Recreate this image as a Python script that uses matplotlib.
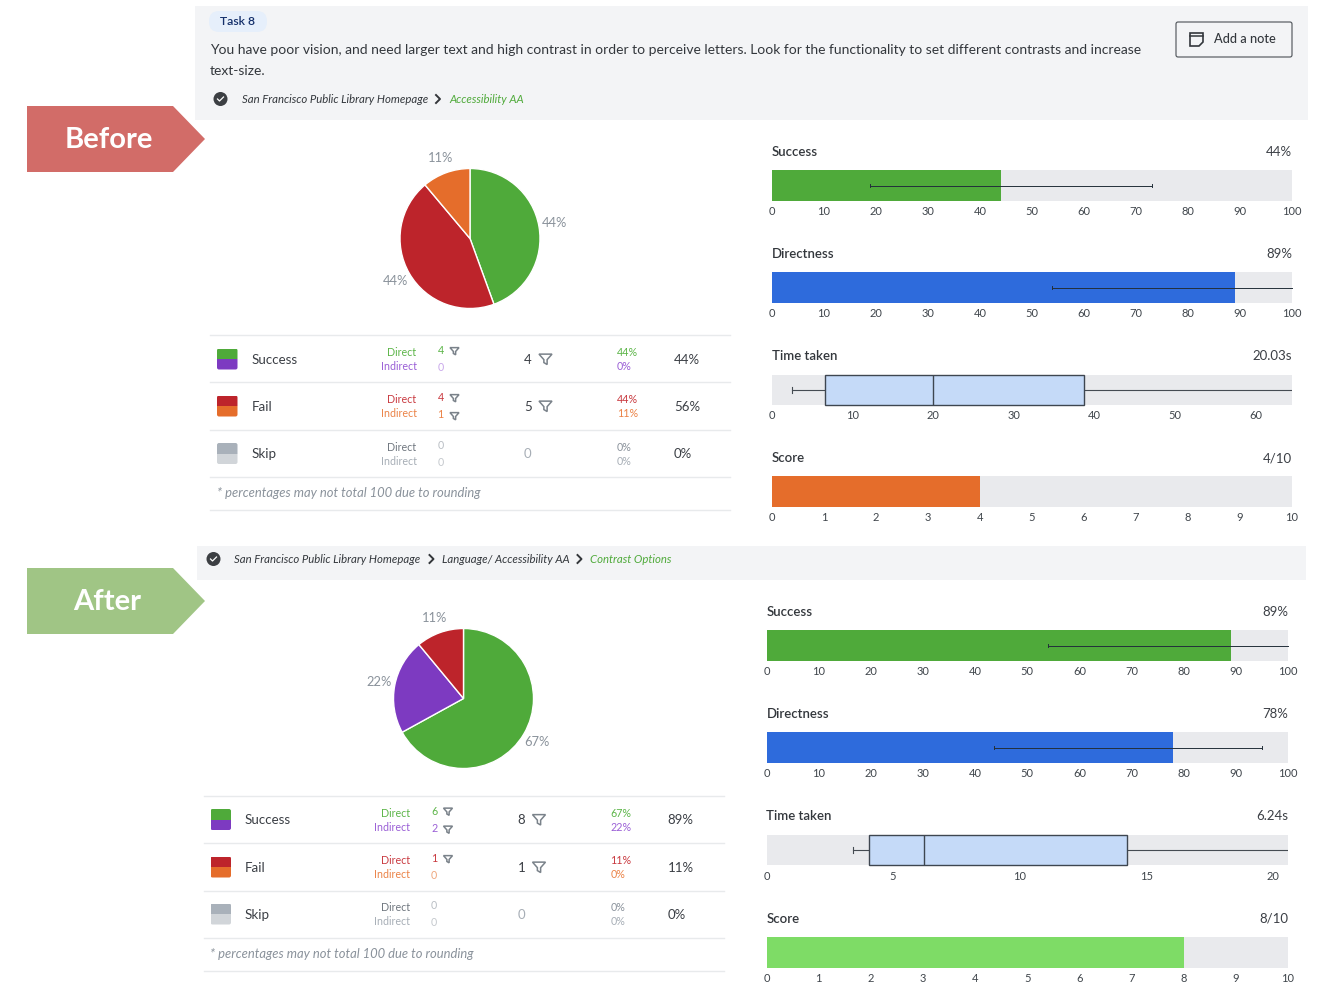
import matplotlib
matplotlib.use("Agg")
import matplotlib.pyplot as plt
from matplotlib.patches import Rectangle, FancyBboxPatch, Polygon, Circle

W, H = 1322, 1006
plt.rcParams['font.family'] = ['Lato', 'DejaVu Sans']

GREEN = '#4FAA3A'; PURPLE = '#7D3AC1'; RED = '#BD242B'; ORANGE = '#E56D2B'
BLUE = '#2E6BDC'; LIME = '#7EDC66'; GREY = '#A9B1BA'; LGREY = '#D1D5D9'
TRACK = '#E9EAED'; BOXC = '#C5DAF8'; DARK = '#3B3F45'; MUTED = '#8A929B'

task_text = ["You have poor vision, and need larger text and high contrast in order to perceive letters. Look for the functionality to set different contrasts and increase",
             "text-size."]
footnote = "* percentages may not total 100 due to rounding"

before_pie_values = [44, 44, 11]
before_pie_colors = [GREEN, RED, ORANGE]
before_pie_labels = ['44%', '44%', '11%']
after_pie_values = [67, 22, 11]
after_pie_colors = [GREEN, PURPLE, RED]
after_pie_labels = ['67%', '22%', '11%']

row_names = ['Success', 'Fail', 'Skip']
row_colors = [(GREEN, PURPLE), (RED, ORANGE), (GREY, LGREY)]
text_colors = [('#5CB548', '#9A5FD6'), ('#C93A40', '#EB8347'), ('#6F767E', '#A7AEB6')]
before_direct = [4, 4, 0]; before_indirect = [0, 1, 0]; before_total = [4, 5, 0]
before_dpct = ['44%', '44%', '0%']; before_ipct = ['0%', '11%', '0%']; before_tpct = ['44%', '56%', '0%']
after_direct = [6, 1, 0]; after_indirect = [2, 0, 0]; after_total = [8, 1, 0]
after_dpct = ['67%', '11%', '0%']; after_ipct = ['22%', '0%', '0%']; after_tpct = ['89%', '11%', '0%']

before_success = 44; before_success_ci = (18.8, 73)
before_direct_pct = 89; before_direct_ci = (53.8, 100)
before_time = (2.5, 6.6, 20.03, 38.7, 64.5)
before_score = 4
after_success = 89; after_success_ci = (54, 100)
after_direct_pct = 78; after_direct_ci = (43.7, 95)
after_time = (3.4, 4.05, 6.24, 14.25, 20.6)
after_score = 8

ticks_pct = list(range(0, 101, 10))
ticks_score = list(range(0, 11))
before_time_ticks = [0, 10, 20, 30, 40, 50, 60]
after_time_ticks = [0, 5, 10, 15, 20]

fig = plt.figure(figsize=(W / 100, H / 100), dpi=100, facecolor='white')
bg = fig.add_axes([0, 0, 1, 1])
bg.set_xlim(0, W); bg.set_ylim(H, 0); bg.axis('off')


def T(x, y, s, size=8, color=DARK, ha='left', va='center', **kw):
    bg.text(x, y + 0.8, s, fontsize=size, color=color, ha=ha, va=va, **kw)


def R(x0, y0, x1, y1, color):
    bg.add_patch(Rectangle((x0, y0), x1 - x0, y1 - y0, fc=color, ec='none'))


def funnel(x, y, s, color='#7A828A'):
    bg.add_patch(Polygon([(x - s, y - s * .75), (x + s, y - s * .75), (x + s * .25, y + s * .1),
                          (x + s * .25, y + s * .85), (x - s * .25, y + s * .55), (x - s * .25, y + s * .1)],
                         closed=True, fc='none', ec=color, lw=1.1))


def arrow(y0, color, label, tx):
    bg.add_patch(Polygon([(27, y0), (173, y0), (205, y0 + 33), (173, y0 + 66), (27, y0 + 66)], closed=True, fc=color, ec='none'))
    T(tx, y0 + 33.5, label, size=21, color='white', ha='center', weight='bold')


def check(x, y):
    bg.add_patch(Circle((x, y), 7, fc='#3C3F43', ec='none'))
    bg.plot([x - 3, x - 1, x + 3], [y, y + 2, y - 2], color='white', lw=0.9)


def chevron(x, y):
    bg.plot([x - 2, x + 2, x - 2], [y - 4, y, y + 4], color='#33363A', lw=1.4)


def pie(cx, cy, values, colors, labels, pos):
    r = 70
    ax = fig.add_axes([(cx - r) / W, 1 - (cy + r) / H, 2 * r / W, 2 * r / H])
    ax.pie(values, colors=colors, startangle=90, counterclock=False, radius=1,
           wedgeprops=dict(ec='white', lw=1))
    ax.set_xlim(-1, 1); ax.set_ylim(-1, 1)
    for lab, (x, y) in zip(labels, pos):
        T(x, y, lab, size=9.3, color=MUTED, ha='center')


def swatch(x, cy, c1, c2):
    clip = FancyBboxPatch((x, cy - 10.5), 20.5, 21, boxstyle='round,pad=0,rounding_size=2', fc='none', ec='none')
    bg.add_patch(clip)
    for y0, col in ((cy - 10.5, c1), (cy, c2)):
        rect = Rectangle((x, y0), 20.5, 10.5, fc=col, ec='none')
        bg.add_patch(rect)
        rect.set_clip_path(clip)


def table(dx, ys, lines, d, i, tot, dp, ip, tp):
    for y in lines:
        bg.plot([210 + dx, 730 + dx], [y, y], color='#E8EAEC', lw=1)
    for k, cy in enumerate(ys):
        c1, c2 = row_colors[k]
        tc1, tc2 = text_colors[k]
        swatch(217 + dx, cy, c1, c2)
        T(251.5 + dx, cy, row_names[k], size=9.6, color=DARK)
        T(416.5 + dx, cy - 7, 'Direct', size=7.7, color=tc1, ha='right')
        T(416.5 + dx, cy + 7, 'Indirect', size=7.7, color=tc2, ha='right')
        nc1 = tc1 if d[k] else '#B9BEC4'
        nc2 = tc2 if i[k] else ('#C9A8EA' if k == 0 else ('#EFA67C' if k == 1 else '#C4C8CD'))
        T(437.5 + dx, cy - 9, str(d[k]), size=7.7, color=nc1)
        T(437.5 + dx, cy + 8, str(i[k]), size=7.7, color=nc2)
        if d[k]:
            funnel(454.5 + dx, cy - 8, 4.5)
        if i[k]:
            funnel(454.5 + dx, cy + 10, 4.5)
        T(524 + dx, cy, str(tot[k]), size=9.5, color=DARK if tot[k] else '#A7AEB6')
        if tot[k]:
            funnel(545.5 + dx, cy, 6.5)
        p1 = tc1 if k < 2 and dp[k] != '0%' else ('#8A929B' if k == 2 else tc1)
        T(617 + dx, cy - 7, dp[k], size=7.7, color=p1)
        T(617 + dx, cy + 7, ip[k], size=7.7, color=tc2)
        T(674 + dx, cy, tp[k], size=9.5, color=DARK)
    T(217 + dx, lines[3] + 15.5, footnote, size=9.4, color=MUTED, style='italic')


def panel(x0, x1, y0, y1, ttl_y, tick_y, title, value, xmax, ticks):
    ax = fig.add_axes([x0 / W, 1 - y1 / H, (x1 - x0) / W, (y1 - y0) / H])
    ax.set_xlim(0, xmax); ax.set_ylim(-0.5, 0.5)
    ax.set_facecolor(TRACK)
    for s in ax.spines.values():
        s.set_visible(False)
    ax.set_yticks([])
    ax.set_xticks(ticks)
    ax.set_xticklabels([str(t) for t in ticks], fontsize=8, color='#3F454B')
    ax.tick_params(axis='x', length=0, pad=tick_y - y1 - 7)
    ax.set_zorder(3)
    T(x0, ttl_y, title, size=9.5, color='#33373C', weight='semibold')
    T(x1, ttl_y, value, size=9.5, color=DARK, ha='right')
    return ax


def bar(ax, v, color, ci=None):
    ax.barh(0, v, height=1, color=color, left=0)
    if ci:
        ax.plot(ci, [0, 0], color='#23303A', lw=0.7, clip_on=False)
        for e in ci:
            ax.plot([e, e], [-0.06, 0.06], color='#23303A', lw=0.7)


def box(ax, t):
    lo, q1, med, q3, hi = t
    ax.plot([lo, q1], [0, 0], color='#454B52', lw=0.8)
    ax.plot([q3, hi], [0, 0], color='#454B52', lw=0.8)
    ax.plot([lo, lo], [-0.1, 0.1], color='#454B52', lw=0.8)
    ax.barh(0, q3 - q1, left=q1, height=1, color=BOXC, edgecolor='#3E4650', lw=1, zorder=3, clip_on=False)
    ax.plot([med, med], [-0.5, 0.5], color='#3E4650', lw=1, zorder=4)


# ---- Before header ----
R(195, 6, 1308, 120, '#F3F4F6')
bg.add_patch(FancyBboxPatch((209, 11), 58, 21, boxstyle='round,pad=0,rounding_size=10', fc='#E6EFFB', ec='none'))
T(238, 20.5, 'Task 8', size=8.8, color='#15306B', ha='center', weight='semibold')
T(210, 49, task_text[0], size=10, color='#33373C')
T(210, 70.5, task_text[1], size=10, color='#33373C')
check(220.5, 99)
T(241.5, 98.5, 'San Francisco Public Library Homepage', size=8.2, color='#33373C', style='italic')
chevron(438, 99)
T(449, 98.5, 'Accessibility AA', size=8.2, color='#4FAA3A', style='italic')
bg.add_patch(FancyBboxPatch((1176, 22), 116, 35, boxstyle='round,pad=0,rounding_size=2', fc='none', ec='#4A4F55', lw=0.8))
bg.add_patch(Polygon([(1190, 33), (1203, 33), (1203, 42), (1199, 46), (1190, 46)], closed=True, fc='none', ec='#33373C', lw=1.2))
bg.plot([1190, 1203], [35.5, 35.5], color='#33373C', lw=1.1)
T(1214, 38.5, 'Add a note', size=9.2, color='#33373C', weight='medium')

arrow(106, '#D26C68', 'Before', 108.5)
arrow(568, '#A0C585', 'After', 107)

# ---- After header ----
R(197, 546, 1306, 580, '#F3F4F6')
check(213.5, 559)
T(234, 558.5, 'San Francisco Public Library Homepage', size=8.2, color='#33373C', style='italic')
chevron(431.5, 559)
T(442, 558.5, 'Language/ Accessibility AA', size=8.2, color='#33373C', style='italic')
chevron(579.5, 559)
T(590, 558.5, 'Contrast Options', size=8.2, color='#4FAA3A', style='italic')

# ---- Pies ----
pie(470, 238.5, before_pie_values, before_pie_colors, before_pie_labels, [(554, 222), (395.5, 280), (441, 157)])
pie(463.5, 698.5, after_pie_values, after_pie_colors, after_pie_labels, [(537, 741), (379, 681), (434.5, 617)])

# ---- Tables ----
table(0, [359, 406, 453.5], [335, 382, 430, 477, 510],
      before_direct, before_indirect, before_total, before_dpct, before_ipct, before_tpct)
table(-6.5, [819.5, 867, 914], [796, 843, 891, 938, 971],
      after_direct, after_indirect, after_total, after_dpct, after_ipct, after_tpct)

# ---- Before panels ----
a = panel(772, 1292, 170, 201, 151.5, 211.5, 'Success', '44%', 100, ticks_pct); bar(a, before_success, GREEN, before_success_ci)
a = panel(772, 1292, 272, 303, 253.5, 313.5, 'Directness', '89%', 100, ticks_pct); bar(a, before_direct_pct, BLUE, before_direct_ci)
a = panel(772, 1292, 375, 405, 355.5, 415.5, 'Time taken', '20.03s', 64.5, before_time_ticks); box(a, before_time)
a = panel(772, 1292, 476, 507, 457.5, 517.5, 'Score', '4/10', 10, ticks_score); bar(a, before_score, ORANGE)

# ---- After panels ----
a = panel(766.5, 1288, 630, 661, 611.5, 671.5, 'Success', '89%', 100, ticks_pct); bar(a, after_success, GREEN, after_success_ci)
a = panel(766.5, 1288, 732, 763, 713.5, 773.5, 'Directness', '78%', 100, ticks_pct); bar(a, after_direct_pct, BLUE, after_direct_ci)
a = panel(766.5, 1288, 835, 865, 815.5, 876, 'Time taken', '6.24s', 20.6, after_time_ticks); box(a, after_time)
a = panel(766.5, 1288, 937, 968, 918, 978.5, 'Score', '8/10', 10, ticks_score); bar(a, after_score, LIME)

fig.savefig('out.png', dpi=100, facecolor='white')
